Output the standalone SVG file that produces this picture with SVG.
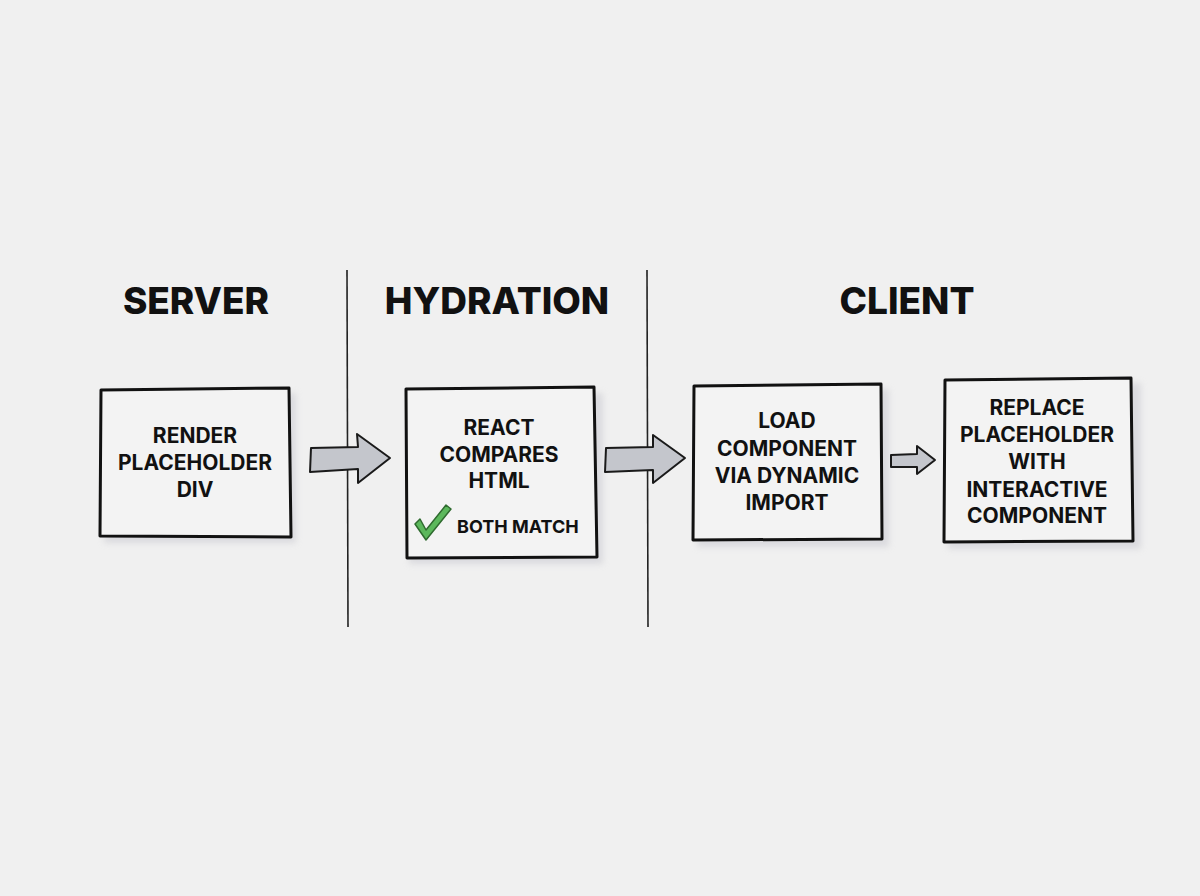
<svg xmlns="http://www.w3.org/2000/svg" width="1200" height="896" viewBox="0 0 1200 896">
<defs>
<filter id="sh" x="-10%" y="-10%" width="130%" height="130%"><feGaussianBlur stdDeviation="3"/></filter>
<style>
.bg{fill:#f0f0f0}
.box{fill:#f3f3f3;stroke:#111;stroke-width:3;stroke-linejoin:round}
.shadow{fill:#c9c9d0;opacity:0.55;filter:url(#sh)}
.div{stroke:#222;stroke-width:1.6;fill:none}
.head{font-family:Inter,"Open Sans","Liberation Sans",sans-serif;font-weight:800;font-size:37px;fill:#111;text-anchor:middle}
.lbl{font-family:Inter,"Open Sans","Liberation Sans",sans-serif;font-weight:700;font-size:21px;fill:#111;text-anchor:middle}
.small{font-family:Inter,"Open Sans","Liberation Sans",sans-serif;font-weight:700;font-size:18px;fill:#111}
.arr{fill:#c4c6cc;stroke:#1a1a1a;stroke-width:2;stroke-linejoin:round}
</style>
</defs>
<rect class="bg" x="0" y="0" width="1200" height="896"/>
<g id="dividers">
<path class="div" d="M347 270 L348 627"/>
<path class="div" d="M647 270 L648 627"/>
</g>
<g id="headings">
<text class="head" x="196" y="314">SERVER</text>
<text class="head" x="497" y="314">HYDRATION</text>
<text class="head" x="907" y="314">CLIENT</text>
</g>
<g id="node-render">
<rect class="shadow" x="104" y="393" width="192" height="150"/>
<path class="box" d="M101 390 L289 388 L291 537 L100 536 Z"/>
<text class="lbl" x="195" y="443">RENDER</text>
<text class="lbl" x="195" y="470">PLACEHOLDER</text>
<text class="lbl" x="195" y="497">DIV</text>
</g>
<g id="node-react">
<rect class="shadow" x="409" y="393" width="194" height="171"/>
<path class="box" d="M406 389 L594 387 L597 557 L407 558 Z"/>
<text class="lbl" x="499" y="435">REACT</text>
<text class="lbl" x="499" y="462">COMPARES</text>
<text class="lbl" x="499" y="488">HTML</text>
<path d="M415 524 L426 540 L451 509 L446 505 L426 530 L420 519 Z" fill="#5cb85c" stroke="#2f6b2f" stroke-width="1.5" stroke-linejoin="round"/>
<text class="small" x="457" y="533">BOTH MATCH</text>
</g>
<g id="node-load">
<rect class="shadow" x="697" y="389" width="192" height="158"/>
<path class="box" d="M694 386 L881 384 L882 539 L693 540 Z"/>
<text class="lbl" x="787" y="428">LOAD</text>
<text class="lbl" x="787" y="456">COMPONENT</text>
<text class="lbl" x="787" y="483">VIA DYNAMIC</text>
<text class="lbl" x="787" y="510">IMPORT</text>
</g>
<g id="node-replace">
<rect class="shadow" x="948" y="383" width="193" height="166"/>
<path class="box" d="M945 380 L1131 378 L1133 541 L944 542 Z"/>
<text class="lbl" x="1037" y="415">REPLACE</text>
<text class="lbl" x="1037" y="442">PLACEHOLDER</text>
<text class="lbl" x="1037" y="469">WITH</text>
<text class="lbl" x="1037" y="497">INTERACTIVE</text>
<text class="lbl" x="1037" y="523">COMPONENT</text>
</g>
<g id="connectors">
<path class="arr" d="M311 448 L358 447 L357 434 L390 458 L358 483 L358 469 L310 472 Z"/>
<path class="arr" d="M606 448 L653 447 L653 435 L685 458 L653 483 L653 470 L605 472 Z"/>
<path class="arr" d="M891 455 L917 454 L917 446 L935 460 L917 474 L917 467 L891 467 Z"/>
</g>
</svg>
